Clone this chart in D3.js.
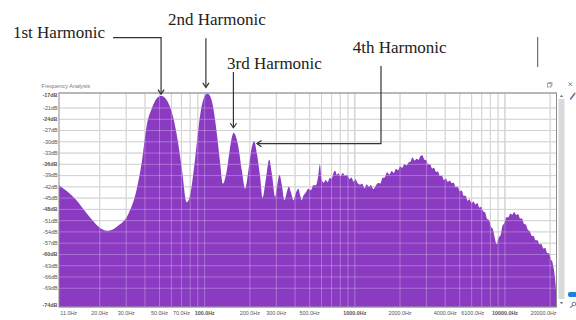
<!DOCTYPE html>
<html>
<head>
<meta charset="utf-8">
<script src="https://cdn.jsdelivr.net/npm/d3@7"></script>
<style>
  html, body { margin: 0; padding: 0; background: #fff; }
  svg { display: block; }
</style>
</head>
<body>
<svg id="chart" width="576" height="320"></svg>
<script>
// Spectrum, low band: the harmonic peaks (Hz, dB)
const lowFreqs = [10.7, 13.7, 16.8, 20.6, 22.8, 26.6, 31.0, 35.3, 38.1, 41.1, 44.4, 48.0, 51.2, 55.9, 60.3, 65.2, 70.4, 76.0,
  79.9, 86.3, 93.2, 97.6, 104.2, 109.5, 113.8, 117.3, 121.9, 126.7, 132.0,
  140.4, 146.6, 151.6, 156.5, 161.9, 167.8, 176.7, 185.9,
  195.6, 206.1, 213.5, 222.5, 234.1, 242.5,
  256.7, 268.8, 280.2, 294.6, 305.2, 314.8, 326.6, 340.0,
  352.7, 363.7, 375.0, 390.3, 406.8, 421.4, 432.5, 444.0];
const lowLevels = [-41.6, -45.2, -49.6, -53.2, -53.7, -52.3, -49.2, -42.5, -35.4, -25.6, -21.1, -18.4, -17.7, -18.9, -22.0, -28.2, -37.1, -46.1,
  -44.3, -34.5, -22.9, -18.9, -17.1, -18.1, -20.7, -24.2, -29.6, -35.7, -41.2,
  -37.6, -32.3, -28.8, -27.6, -28.8, -31.5, -37.6, -42.5,
  -37.6, -31.4, -29.8, -33.1, -39.4, -44.9,
  -39.4, -34.7, -38.5, -44.7, -41.2, -38.8, -41.6, -45.6,
  -43.4, -41.9, -43.4, -45.6, -43.4, -42.5, -44.3, -45.6];

// Spectrum, high band: broadband content (Hz, dB)
const highFreqs = [450, 470, 490, 510, 530, 550, 570, 585, 600, 620,
  640, 660, 680, 700, 720, 740, 760, 780, 800, 830,
  860, 890, 920, 950, 980, 1010, 1040, 1080, 1120, 1160,
  1200, 1240, 1280, 1330, 1380, 1430, 1480, 1530, 1580, 1640,
  1700, 1760, 1820, 1880, 1940, 2000, 2070, 2140, 2210, 2280,
  2350, 2420, 2500, 2580, 2660, 2740, 2820, 2900, 2990, 3080,
  3170, 3270, 3370, 3470, 3580, 3690, 3800, 3920, 4040, 4160,
  4290, 4420, 4560, 4700, 4850, 5000, 5150, 5310, 5470, 5640,
  5810, 5990, 6170, 6360, 6550, 6750, 6950, 7160, 7380, 7600,
  7830, 8070, 8310, 8560, 8820, 9080, 9360, 9640, 9930, 10230,
  10540, 10860, 11190, 11530, 11880, 12240, 12610, 12990, 13380, 13780,
  14200, 14630, 15070, 15520, 15990, 16470, 16970, 17480, 18010, 18550,
  19110, 19690, 20280, 20600, 20900, 21200, 21500, 21750, 21950, 22050];
const highLevels = [-44.8, -43.6, -42.5, -42.9, -41.5, -41.6, -39.2, -36.0, -40.0, -40.9,
  -40.2, -40.8, -39.6, -39.9, -38.3, -37.7, -38.8, -38.4, -39.2, -38.3,
  -39.0, -38.8, -39.9, -39.5, -40.6, -40.0, -40.9, -41.4, -41.2, -42.4,
  -41.3, -42.0, -41.5, -42.6, -41.7, -41.0, -41.1, -39.6, -39.5, -38.1,
  -38.7, -37.8, -38.3, -37.2, -37.6, -36.5, -36.9, -35.9, -36.3, -35.5,
  -35.3, -34.1, -35.0, -34.5, -34.8, -33.8, -33.6, -34.7, -34.9, -36.0,
  -35.9, -37.1, -36.9, -38.0, -37.9, -39.1, -39.0, -40.2, -39.8, -40.7,
  -40.3, -41.0, -40.9, -42.1, -42.0, -43.2, -43.0, -44.4, -44.4, -45.7,
  -45.3, -46.3, -45.9, -46.7, -46.3, -47.5, -47.3, -48.5, -48.8, -50.5,
  -50.8, -52.6, -53.2, -55.6, -57.3, -55.5, -54.8, -52.3, -51.6, -50.1,
  -50.1, -49.1, -49.4, -48.7, -49.5, -49.2, -50.4, -50.4, -51.8, -52.0,
  -53.4, -53.8, -55.0, -55.1, -56.2, -56.2, -57.3, -57.2, -58.4, -58.3,
  -59.6, -59.7, -61.5, -61.7, -62.8, -64.1, -66.0, -68.1, -70.8, -74];

// Axis ticks
const dbTicks = [-17, -21, -24, -27, -30, -33, -36, -39, -42, -45, -48, -51, -54, -57, -60, -63, -66, -69, -74];
const dbBold = [-17, -24, -36, -48, -60, -74];
const freqTicks = [11, 20, 30, 50, 70, 100, 200, 300, 500, 1000, 2000, 4000, 6100, 10000, 20000];
const freqTickLabels = ["11.0Hz", "20.0Hz", "30.0Hz", "50.0Hz", "70.0Hz", "100.0Hz", "200.0Hz", "300.0Hz", "500.0Hz",
  "1000.0Hz", "2000.0Hz", "4000.0Hz", "6100.0Hz", "10000.0Hz", "20000.0Hz"];
const freqGrid = [20, 30, 40, 50, 60, 70, 80, 90, 100, 200, 300, 400, 500, 600, 700, 800, 900,
  1000, 2000, 3000, 4000, 5000, 6000, 7000, 8000, 9000, 10000, 20000];

// Harmonic callouts: peak frequency/level of each marked harmonic
const harmonicNames = ["1st Harmonic", "2nd Harmonic", "3rd Harmonic", "4th Harmonic"];
const harmonicFreqs = [51.2, 104.2, 156.5, 213.5];
const harmonicLevels = [-17.7, -17.1, -27.6, -29.8];

const svg = d3.select("#chart");
const plot = { left: 59, right: 556.5, top: 93, bottom: 307 };

const x = d3.scaleLog().domain([10.7, 22050]).range([plot.left, plot.right]);
const y = d3.scaleLinear().domain([-74, -17]).range([plot.bottom, plot.top]);

const spectrum = lowFreqs.map((f, i) => ({ f, db: lowLevels[i] }))
  .concat(highFreqs.map((f, i) => ({ f, db: highLevels[i] })));

const uiFont = "'Liberation Sans', Arial, sans-serif";

svg.append("rect").attr("width", 576).attr("height", 320).attr("fill", "#fff");

// Window caption
svg.append("text").attr("x", 41.5).attr("y", 87.5)
  .attr("font-family", uiFont).attr("font-size", 5.6).attr("fill", "#7a7a7a")
  .text("Frequency Analysis");

// Caption buttons
svg.append("rect").attr("x", 547.5).attr("y", 83.5).attr("width", 3.5).attr("height", 3.5)
  .attr("fill", "none").attr("stroke", "#8a8a8a").attr("stroke-width", 0.7);
svg.append("path").attr("d", "M548.5,83.5 V82.5 H552 V86 H551")
  .attr("fill", "none").attr("stroke", "#8a8a8a").attr("stroke-width", 0.7);
svg.append("path").attr("d", "M568.5,82.5 L572,86 M572,82.5 L568.5,86")
  .attr("stroke", "#666").attr("stroke-width", 0.8);

const clip = svg.append("defs").append("clipPath").attr("id", "plotClip");
clip.append("rect").attr("x", plot.left).attr("y", plot.top)
  .attr("width", plot.right - plot.left).attr("height", plot.bottom - plot.top);

// Grid beneath the spectrum
const grid = svg.append("g");
grid.selectAll(".hg").data(dbTicks).join("line")
  .attr("x1", plot.left).attr("x2", plot.right)
  .attr("y1", d => y(d)).attr("y2", d => y(d))
  .attr("stroke", "#c2c2c2").attr("stroke-width", 1);
grid.selectAll(".vg").data(freqGrid).join("line")
  .attr("x1", d => x(d)).attr("x2", d => x(d))
  .attr("y1", plot.top).attr("y2", plot.bottom)
  .attr("stroke", d => [100, 1000, 10000].includes(d) ? "#b4b4b4" : "#c2c2c2").attr("stroke-width", 1);

// Spectrum area
const area = d3.area()
  .x(d => x(d.f))
  .y0(y(-74))
  .y1(d => y(d.db))
  .curve(d3.curveMonotoneX);
svg.append("path").datum(spectrum)
  .attr("clip-path", "url(#plotClip)")
  .attr("d", area)
  .attr("fill", "#8a3bc2");

// Grid showing through the filled spectrum
const gridTop = svg.append("g").attr("clip-path", "url(#plotClip)");
gridTop.selectAll("line.h").data(dbTicks).join("line")
  .attr("x1", plot.left).attr("x2", plot.right)
  .attr("y1", d => y(d)).attr("y2", d => y(d))
  .attr("stroke", "#fff").attr("stroke-opacity", 0.28).attr("stroke-width", 1);
gridTop.selectAll("line.v").data(freqGrid).join("line")
  .attr("x1", d => x(d)).attr("x2", d => x(d))
  .attr("y1", plot.top).attr("y2", plot.bottom)
  .attr("stroke", "#fff").attr("stroke-opacity", 0.28).attr("stroke-width", 1);

// Plot frame
svg.append("rect").attr("x", plot.left).attr("y", plot.top)
  .attr("width", plot.right - plot.left).attr("height", plot.bottom - plot.top)
  .attr("fill", "none").attr("stroke", "#8c8c8c").attr("stroke-width", 1);

// dB labels
svg.append("g").selectAll("text").data(dbTicks).join("text")
  .attr("x", plot.left - 1.5)
  .attr("y", (d, i) => y(d) + (i === 0 ? 2.6 : i === dbTicks.length - 1 ? -1.5 : 0))
  .attr("dy", "0.35em")
  .attr("text-anchor", "end")
  .attr("font-family", uiFont).attr("font-size", 5.4)
  .attr("font-weight", d => dbBold.includes(d) ? "bold" : "normal")
  .attr("fill", "#555")
  .text(d => d + "dB");

// Frequency labels
svg.append("g").selectAll("text").data(freqTicks).join("text")
  .attr("x", (d, i) => i === 0 ? x(d) - 0.5 : i === freqTicks.length - 1 ? plot.right : x(d))
  .attr("y", 315)
  .attr("text-anchor", (d, i) => i === 0 ? "start" : i === freqTicks.length - 1 ? "end" : "middle")
  .attr("font-family", uiFont).attr("font-size", 5.4)
  .attr("font-weight", d => [100, 1000, 10000].includes(d) ? "bold" : "normal")
  .attr("fill", "#555")
  .text((d, i) => freqTickLabels[i]);

// Right-hand scroll bar and tool icons
svg.append("rect").attr("x", 558.5).attr("y", 99).attr("width", 6).attr("height", 200).attr("fill", "#d9d9d9");
svg.append("path").attr("d", "M559.8,97 L561.5,94.8 L563.2,97 Z").attr("fill", "#777");
svg.append("path").attr("d", "M559.8,302 L561.5,304.2 L563.2,302 Z").attr("fill", "#777");
svg.append("path").attr("d", "M570.5,99 L574.5,94").attr("stroke", "#5b6f98").attr("stroke-width", 1.5).attr("stroke-linecap", "round");
svg.append("circle").attr("cx", 574.6).attr("cy", 93.6).attr("r", 1).attr("fill", "#d07a2a");
svg.append("rect").attr("x", 568).attr("y", 292).attr("width", 9).attr("height", 5).attr("rx", 2).attr("fill", "#1d80de");
svg.append("circle").attr("cx", 574).attr("cy", 304).attr("r", 1.8).attr("fill", "none").attr("stroke", "#5b6f98").attr("stroke-width", 0.9);
svg.append("path").attr("d", "M572.7,305.3 L570.3,307.7").attr("stroke", "#5b6f98").attr("stroke-width", 1.2);

// Harmonic callouts
const ann = svg.append("g").attr("fill", "none").attr("stroke", "#333").attr("stroke-width", 1.2);
function arrowHead(tx, ty, angle) {
  const len = 5.5, spread = 0.6;
  const a1 = angle + Math.PI - spread, a2 = angle + Math.PI + spread;
  ann.append("path").attr("d",
    `M${tx + len * Math.cos(a1)},${ty + len * Math.sin(a1)} L${tx},${ty} L${tx + len * Math.cos(a2)},${ty + len * Math.sin(a2)}`);
}
const hx = harmonicFreqs.map(f => x(f));
const hy = harmonicLevels.map(v => y(v));

// 1st: elbow from the label down onto the peak
ann.append("path").attr("d", `M113,37.7 H${hx[0]} V${hy[0] - 1.5}`);
arrowHead(hx[0], hy[0] - 1.5, Math.PI / 2);
// 2nd: straight drop
ann.append("path").attr("d", `M${hx[1] - 1.5},38.3 V${hy[1] - 6}`);
arrowHead(hx[1] - 1.5, hy[1] - 6, Math.PI / 2);
// 3rd: straight drop
ann.append("path").attr("d", `M${hx[2] - 0.5},72 V${hy[2] - 5}`);
arrowHead(hx[2] - 0.5, hy[2] - 5, Math.PI / 2);
// 4th: down, then back left to the peak
ann.append("path").attr("d", `M381,66 V${hy[3] + 2.5} H${hx[3] + 2.8}`);
arrowHead(hx[3] + 2.8, hy[3] + 2.5, Math.PI);

const labelPos = [[13, 38], [168, 25], [227, 69], [352.7, 53]];
svg.append("g").selectAll("text").data(harmonicNames).join("text")
  .attr("x", (d, i) => labelPos[i][0]).attr("y", (d, i) => labelPos[i][1])
  .attr("font-family", "'Liberation Serif', 'Times New Roman', serif")
  .attr("font-size", 17).attr("fill", "#222")
  .text(d => d);

// Text cursor mark at the top right
svg.append("line").attr("x1", 537.7).attr("x2", 537.7).attr("y1", 37).attr("y2", 67)
  .attr("stroke", "#555").attr("stroke-width", 1);
</script>
</body>
</html>
